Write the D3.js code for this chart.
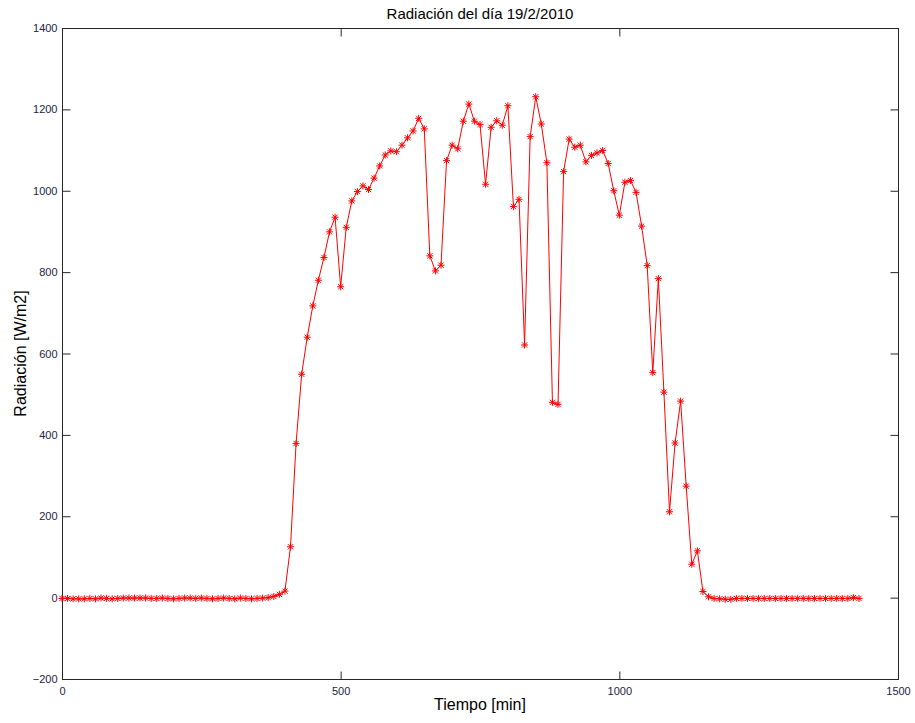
<!DOCTYPE html>
<html>
<head>
<meta charset="utf-8">
<script src="https://cdn.jsdelivr.net/npm/d3@7"></script>
<style>
  html, body { margin: 0; padding: 0; background: #fff; }
  svg { display: block; }
  text { font-family: Arial, "Liberation Sans", sans-serif; }
</style>
</head>
<body>
<svg id="chart" width="915" height="723"></svg>
<script>
// ---- Data ----
const title = "Radiación del día 19/2/2010";
const xLabel = "Tiempo [min]";
const yLabel = "Radiación [W/m2]";
const xTicks = [0, 500, 1000, 1500];
const yTicks = [-200, 0, 200, 400, 600, 800, 1000, 1200, 1400];

const tiempo = [
  0,10,20,30,40,50,60,70,80,90,100,110,120,130,140,150,160,170,180,190,
  200,210,220,230,240,250,260,270,280,290,300,310,320,330,340,350,360,370,380,390,
  400,410,420,430,440,450,460,470,480,490,500,510,520,530,540,550,560,570,580,590,
  600,610,620,630,640,650,660,670,680,690,700,710,720,730,740,750,760,770,780,790,
  800,810,820,830,840,850,860,870,880,890,900,910,920,930,940,950,960,970,980,990,
  1000,1010,1020,1030,1040,1050,1060,1070,1080,1090,1100,1110,1120,1130,1140,1150,1160,1170,1180,1190,
  1200,1210,1220,1230,1240,1250,1260,1270,1280,1290,1300,1310,1320,1330,1340,1350,1360,1370,1380,1390,
  1400,1410,1420,1430
];
const radiacion = [
  -2,-2,-3,-3,-3,-2,-3,-1,-2,-3,-2,-1,-1,-1,-1,-1,-2,-2,-1,-2,
  -3,-2,-1,-1,-2,-1,-2,-3,-2,-1,-2,-3,-1,-2,-3,-2,-1,0,3,8,
  16,125,379,549,640,717,780,836,899,935,764,910,975,998,1012,1003,1031,1061,1088,1098,
  1096,1112,1130,1147,1178,1152,840,803,817,1074,1112,1103,1171,1213,1171,1163,1016,1156,1172,1161,
  1209,961,979,621,1133,1231,1164,1069,480,475,1047,1127,1107,1112,1071,1087,1093,1099,1067,1000,
  940,1021,1025,996,913,816,553,784,505,211,380,483,274,82,115,15,2,-2,-3,-4,
  -4,-2,-2,-2,-2,-2,-2,-2,-2,-2,-2,-2,-2,-2,-2,-2,-2,-2,-2,-2,
  -2,-2,0,-2
];

// ---- Layout ----
const svg = d3.select("#chart");
const L = 62, R = 898, T = 28, B = 679;

const x = d3.scaleLinear().domain([0, 1500]).range([L, R]);
const y = d3.scaleLinear().domain([-200, 1400]).range([B, T]);

const axisColor = "#262626";
const tickLen = 8;

// frame box
svg.append("rect")
  .attr("x", L + 0.5).attr("y", T + 0.5)
  .attr("width", R - L).attr("height", B - T)
  .attr("fill", "none").attr("stroke", axisColor).attr("stroke-width", 1);

// Axes via d3 (inward ticks)
const xAxisBottom = d3.axisBottom(x).tickValues(xTicks).tickSize(-tickLen).tickPadding(10).tickFormat(d3.format("d"));
const xAxisTop = d3.axisTop(x).tickValues(xTicks).tickSize(-tickLen).tickFormat("");
const yAxisLeft = d3.axisLeft(y).tickValues(yTicks).tickSize(-tickLen).tickPadding(12).tickFormat(d3.format("d"));
const yAxisRight = d3.axisRight(y).tickValues(yTicks).tickSize(-tickLen).tickFormat("");

function styleAxis(g) {
  g.select(".domain").remove();
  g.selectAll(".tick line").attr("stroke", axisColor).attr("stroke-width", 1);
  g.selectAll(".tick text").attr("fill", "#23233f").style("font-size", "11px")
    .style("font-family", "Arial, 'Liberation Sans', sans-serif");
}

svg.append("g").attr("transform", `translate(0,${B + 0.5})`).call(xAxisBottom).call(styleAxis)
  .selectAll(".tick text").attr("dy", "0.71em").attr("y", 8);
svg.append("g").attr("transform", `translate(0,${T + 0.5})`).call(xAxisTop).call(styleAxis);
svg.append("g").attr("transform", `translate(${L + 0.5},0)`).call(yAxisLeft).call(styleAxis)
  .selectAll(".tick text").attr("x", -5);
svg.append("g").attr("transform", `translate(${R + 0.5},0)`).call(yAxisRight).call(styleAxis);

// ---- Data line ----
const data = tiempo.map((t, i) => ({ t, v: radiacion[i] }));
const line = d3.line().x(d => x(d.t)).y(d => y(d.v));

svg.append("path")
  .datum(data)
  .attr("d", line)
  .attr("fill", "none")
  .attr("stroke", "#ff0000")
  .attr("stroke-width", 1);

// asterisk markers
const s = 3.5, dgl = 2.6;
const markers = svg.append("g").attr("stroke", "#ff0000").attr("stroke-width", 1).attr("fill", "none");
markers.selectAll("path.m")
  .data(data)
  .join("path")
  .attr("class", "m")
  .attr("d", d => {
    const cx = x(d.t), cy = y(d.v);
    return `M${cx - s},${cy}L${cx + s},${cy}M${cx},${cy - s}L${cx},${cy + s}` +
           `M${cx - dgl},${cy - dgl}L${cx + dgl},${cy + dgl}M${cx - dgl},${cy + dgl}L${cx + dgl},${cy - dgl}`;
  });

// ---- Labels ----
svg.append("text")
  .attr("x", (L + R) / 2).attr("y", 19)
  .attr("text-anchor", "middle")
  .style("font-size", "15px").attr("fill", "#000")
  .text(title);

svg.append("text")
  .attr("x", (L + R) / 2).attr("y", 710)
  .attr("text-anchor", "middle")
  .style("font-size", "16px").attr("fill", "#000")
  .text(xLabel);

svg.append("text")
  .attr("transform", `translate(26,${(T + B) / 2}) rotate(-90)`)
  .attr("text-anchor", "middle")
  .style("font-size", "16px").attr("fill", "#000")
  .text(yLabel);
</script>
</body>
</html>
